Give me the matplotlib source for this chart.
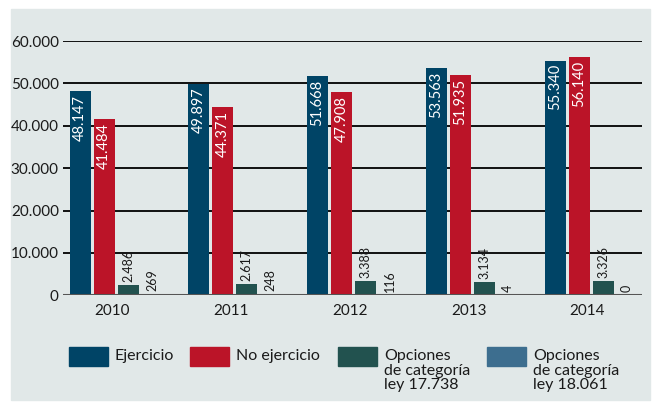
import matplotlib.pyplot as plt
from matplotlib.patches import Rectangle
import numpy as np

years = ['2010', '2011', '2012', '2013', '2014']
ejercicio = [48147, 49897, 51668, 53563, 55340]
no_ejercicio = [41484, 44371, 47908, 51935, 56140]
opc_17738 = [2486, 2617, 3388, 3134, 3326]
opc_18061 = [269, 248, 116, 4, 0]
series_names = ['Ejercicio', 'No ejercicio', 'Opciones\nde categoría\nley 17.738',
                'Opciones\nde categoría\nley 18.061']
colors = ['#004466', '#bb1428', '#22524f', '#3d6e8f']
yticks = [0, 10000, 20000, 30000, 40000, 50000, 60000]

plt.rcParams['font.family'] = ['Lato', 'DejaVu Sans']

W, H = 656, 403
fig = plt.figure(figsize=(W / 100, H / 100), dpi=100, facecolor='white')
fig.patches.append(Rectangle((11 / W, 1 - 400 / H), 639 / W, 391 / H,
                             transform=fig.transFigure, color='#e1e8e8', zorder=-10))

ax = fig.add_axes([63 / W, 1 - 295.3 / H, 579 / W, 254.3 / H])
ax.set_facecolor('none')

series = [ejercicio, no_ejercicio, opc_17738, opc_18061]
pitch = 24 / 118.75
width = 21 / 118.75
x = np.arange(len(years))
for k, vals in enumerate(series):
    xs = x + (k - 1.5) * pitch
    ax.bar(xs, vals, width, color=colors[k], zorder=3)
    for xi, v in zip(xs, vals):
        lab = f'{v:,}'.replace(',', '.')
        if v > 20000:
            ax.text(xi, v - 800, lab, rotation=90, ha='center', va='top',
                    color='white', fontsize=10.5, zorder=4)
        else:
            ax.text(xi, v + 700, lab, rotation=90, ha='center', va='bottom',
                    color='#1a1a1a', fontsize=9, zorder=4)

ax.set_xlim(-53 / 118.75, 526 / 118.75)
ax.set_ylim(0, 60000)
ax.set_yticks(yticks)
ax.set_yticklabels([f'{t:,}'.replace(',', '.') for t in yticks], fontsize=11, color='#1a1a1a')
ax.set_xticks(x - 0.03)
ax.set_xticklabels(years, fontsize=11, color='#1a1a1a')
ax.tick_params(length=0, pad=6)
ax.tick_params(axis='y', pad=3)
for s in ax.spines.values():
    s.set_visible(False)
for t in yticks[1:]:
    ax.axhline(t, color='black', lw=1.3, zorder=1)
ax.axhline(0, color='#555555', lw=2.2, zorder=5)

# legend
leg_x = [69, 190, 338, 487]
for k, name in enumerate(series_names):
    fig.patches.append(Rectangle((leg_x[k] / W, 1 - 366 / H), 39 / W, 19 / H,
                                 transform=fig.transFigure, color=colors[k]))
    fig.text((leg_x[k] + 46) / W, 1 - 349 / H, name, ha='left', va='top',
             fontsize=11.5, color='#1a1a1a', linespacing=1.05)

fig.savefig('out.png', dpi=100, facecolor='white')
